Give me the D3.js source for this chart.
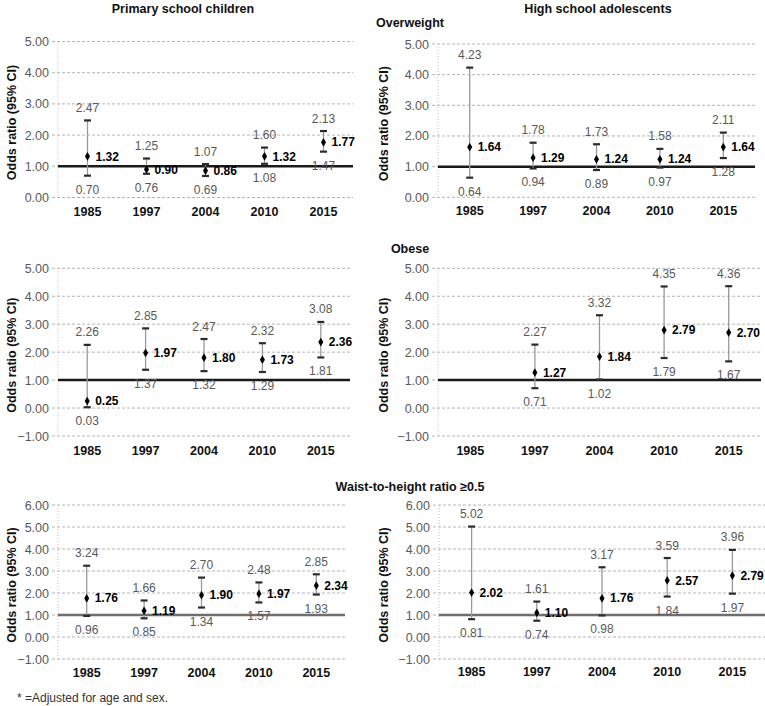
<!DOCTYPE html>
<html>
<head>
<meta charset="utf-8">
<script src="https://d3js.org/d3.v7.min.js"></script>
<style>
  body { margin: 0; background: #fff; }
  svg { display: block; }
  text { font-family: "Liberation Sans", Arial, sans-serif; }
</style>
</head>
<body>
<svg id="chart" width="765" height="706"></svg>
<script>
// ---------------- DATA ----------------
const years = ["1985", "1997", "2004", "2010", "2015"];

// Overweight – primary school children
const owPrimOR = [1.32, 0.90, 0.86, 1.32, 1.77];
const owPrimLo = [0.70, 0.76, 0.69, 1.08, 1.47];
const owPrimHi = [2.47, 1.25, 1.07, 1.60, 2.13];

// Overweight – high school adolescents
const owHighOR = [1.64, 1.29, 1.24, 1.24, 1.64];
const owHighLo = [0.64, 0.94, 0.89, 0.97, 1.28];
const owHighHi = [4.23, 1.78, 1.73, 1.58, 2.11];

// Obese – primary school children
const obPrimOR = [0.25, 1.97, 1.80, 1.73, 2.36];
const obPrimLo = [0.03, 1.37, 1.32, 1.29, 1.81];
const obPrimHi = [2.26, 2.85, 2.47, 2.32, 3.08];

// Obese – high school adolescents (no estimate for 1985)
const obHighOR = [null, 1.27, 1.84, 2.79, 2.70];
const obHighLo = [null, 0.71, 1.02, 1.79, 1.67];
const obHighHi = [null, 2.27, 3.32, 4.35, 4.36];

// Waist-to-height ratio ≥0.5 – primary school children
const whPrimOR = [1.76, 1.19, 1.90, 1.97, 2.34];
const whPrimLo = [0.96, 0.85, 1.34, 1.57, 1.93];
const whPrimHi = [3.24, 1.66, 2.70, 2.48, 2.85];

// Waist-to-height ratio ≥0.5 – high school adolescents
const whHighOR = [2.02, 1.10, 1.76, 2.57, 2.79];
const whHighLo = [0.81, 0.74, 0.98, 1.84, 1.97];
const whHighHi = [5.02, 1.61, 3.17, 3.59, 3.96];

const ticksOverweight = [0, 1, 2, 3, 4, 5];
const ticksObese = [-1, 0, 1, 2, 3, 4, 5];
const ticksWaist = [-1, 0, 1, 2, 3, 4, 5, 6];

const referenceOR = 1;
const yAxisTitle = "Odds ratio (95% CI)";
const columnTitles = ["Primary school children", "High school adolescents"];
const rowTitles = ["Overweight", "Obese", "Waist-to-height ratio ≥0.5"];
const footnote = "* =Adjusted for age and sex.";

// ---------------- LAYOUT ----------------
const panels = [
  { or: owPrimOR, lo: owPrimLo, hi: owPrimHi, ticks: ticksOverweight,
    x0: 58, x1: 353, yTop: 41.5, yBot: 197.5, xLab: 212, yTitleX: 12, refColor: "#1a1a1a" },
  { or: owHighOR, lo: owHighLo, hi: owHighHi, ticks: ticksOverweight,
    x0: 438, x1: 755, yTop: 44, yBot: 197.3, xLab: 210.7, yTitleX: 384, refColor: "#1a1a1a" },
  { or: obPrimOR, lo: obPrimLo, hi: obPrimHi, ticks: ticksObese,
    x0: 58, x1: 350, yTop: 268.3, yBot: 436, xLab: 450.7, yTitleX: 12, refColor: "#1a1a1a" },
  { or: obHighOR, lo: obHighLo, hi: obHighHi, ticks: ticksObese,
    x0: 438, x1: 761, yTop: 268.3, yBot: 436, xLab: 450.7, yTitleX: 384, refColor: "#1a1a1a" },
  { or: whPrimOR, lo: whPrimLo, hi: whPrimHi, ticks: ticksWaist,
    x0: 58, x1: 345, yTop: 505, yBot: 659, xLab: 672.7, yTitleX: 12, refColor: "#6e6e6e" },
  { or: whHighOR, lo: whHighLo, hi: whHighHi, ticks: ticksWaist,
    x0: 439, x1: 765, yTop: 505, yBot: 659, xLab: 671.7, yTitleX: 384, refColor: "#6e6e6e" }
];

const svg = d3.select("#chart");
const grayText = "#595959";

panels.forEach(p => {
  const g = svg.append("g");
  const x = d3.scaleBand().domain(years).range([p.x0, p.x1]);
  const y = d3.scaleLinear()
    .domain([d3.min(p.ticks), d3.max(p.ticks)])
    .range([p.yBot, p.yTop]);

  // horizontal dashed gridlines
  g.selectAll("line.grid").data(p.ticks).join("line")
    .attr("x1", p.x0 - 6).attr("x2", p.x1)
    .attr("y1", d => y(d)).attr("y2", d => y(d))
    .attr("stroke", "#b5b5b5").attr("stroke-width", 1)
    .attr("stroke-dasharray", "3,2");

  // dotted vertical axis line
  g.append("line")
    .attr("x1", p.x0).attr("x2", p.x0)
    .attr("y1", y(d3.max(p.ticks))).attr("y2", y(d3.min(p.ticks)))
    .attr("stroke", "#c0c0c0").attr("stroke-width", 1)
    .attr("stroke-dasharray", "1,2");

  // y tick labels via axis
  const yAxis = d3.axisLeft(y).tickValues(p.ticks)
    .tickFormat(d3.format(".2f")).tickSize(0).tickPadding(9);
  const ya = g.append("g").attr("transform", `translate(${p.x0},0)`).call(yAxis);
  ya.select(".domain").remove();
  ya.selectAll("text")
    .attr("fill", grayText)
    .style("font-size", "12.5px")
    .style("font-family", '"Liberation Sans", Arial, sans-serif');

  // x axis labels
  const xAxis = d3.axisBottom(x).tickSize(0).tickPadding(0);
  const xa = g.append("g").attr("transform", `translate(0,${p.xLab})`).call(xAxis);
  xa.select(".domain").remove();
  xa.selectAll("text")
    .attr("dy", "0.35em")
    .attr("fill", "#111")
    .style("font-size", "12.5px")
    .style("font-weight", "bold")
    .style("font-family", '"Liberation Sans", Arial, sans-serif');

  // y axis title
  const cy = (y(d3.max(p.ticks)) + y(d3.min(p.ticks))) / 2 + 3;
  g.append("text")
    .attr("transform", `translate(${p.yTitleX},${cy}) rotate(-90)`)
    .attr("text-anchor", "middle").attr("dy", "0.35em")
    .attr("fill", "#111")
    .style("font-size", "12.5px").style("font-weight", "bold")
    .text(yAxisTitle);

  // reference line at OR = 1
  g.append("line")
    .attr("x1", p.x0).attr("x2", p.x1)
    .attr("y1", y(referenceOR)).attr("y2", y(referenceOR))
    .attr("stroke", p.refColor).attr("stroke-width", 2.5);

  const rows = years.map((yr, i) => ({ yr, or: p.or[i], lo: p.lo[i], hi: p.hi[i] }))
    .filter(d => d.or !== null);
  const cx = d => x(d.yr) + x.bandwidth() / 2;

  // error bar whiskers
  g.selectAll("line.whisk").data(rows).join("line")
    .attr("x1", cx).attr("x2", cx)
    .attr("y1", d => y(d.lo)).attr("y2", d => y(d.hi))
    .attr("stroke", "#9a9a9a").attr("stroke-width", 1.3);

  // caps
  ["lo", "hi"].forEach(k => {
    g.selectAll("line.cap" + k).data(rows).join("line")
      .attr("x1", d => cx(d) - 3.5).attr("x2", d => cx(d) + 3.5)
      .attr("y1", d => y(d[k])).attr("y2", d => y(d[k]))
      .attr("stroke", "#2b2b2b").attr("stroke-width", 2.2);
  });

  // diamond markers
  g.selectAll("path.pt").data(rows).join("path")
    .attr("d", d3.symbol().type(d3.symbolDiamond).size(22))
    .attr("transform", d => `translate(${cx(d)},${y(d.or)})`)
    .attr("fill", "#000");

  // upper CI labels
  g.selectAll("text.hiLab").data(rows).join("text")
    .attr("x", cx).attr("y", d => y(d.hi) - 8.5)
    .attr("text-anchor", "middle").attr("fill", grayText)
    .style("font-size", "12px")
    .text(d => d.hi.toFixed(2));

  // lower CI labels
  g.selectAll("text.loLab").data(rows).join("text")
    .attr("x", cx).attr("y", d => y(d.lo) + 18)
    .attr("text-anchor", "middle").attr("fill", grayText)
    .style("font-size", "12px")
    .text(d => d.lo.toFixed(2));

  // OR labels
  g.selectAll("text.orLab").data(rows).join("text")
    .attr("x", d => cx(d) + 8).attr("y", d => y(d.or))
    .attr("dy", "0.35em").attr("fill", "#000")
    .style("font-size", "12px").style("font-weight", "bold")
    .text(d => d.or.toFixed(2));
});

// Titles
svg.append("text").attr("x", 183).attr("y", 13).attr("text-anchor", "middle")
  .style("font-size", "12.5px").style("font-weight", "bold").attr("fill", "#111")
  .text(columnTitles[0]);
svg.append("text").attr("x", 598).attr("y", 13).attr("text-anchor", "middle")
  .style("font-size", "12.5px").style("font-weight", "bold").attr("fill", "#111")
  .text(columnTitles[1]);

const rowTitleY = [27, 253, 491];
rowTitles.forEach((t, i) => {
  svg.append("text").attr("x", 410).attr("y", rowTitleY[i]).attr("text-anchor", "middle")
    .style("font-size", "12.5px").style("font-weight", "bold").attr("fill", "#111")
    .text(t);
});

svg.append("text").attr("x", 17).attr("y", 702)
  .style("font-size", "12px").attr("fill", "#333")
  .text(footnote);
</script>
</body>
</html>
